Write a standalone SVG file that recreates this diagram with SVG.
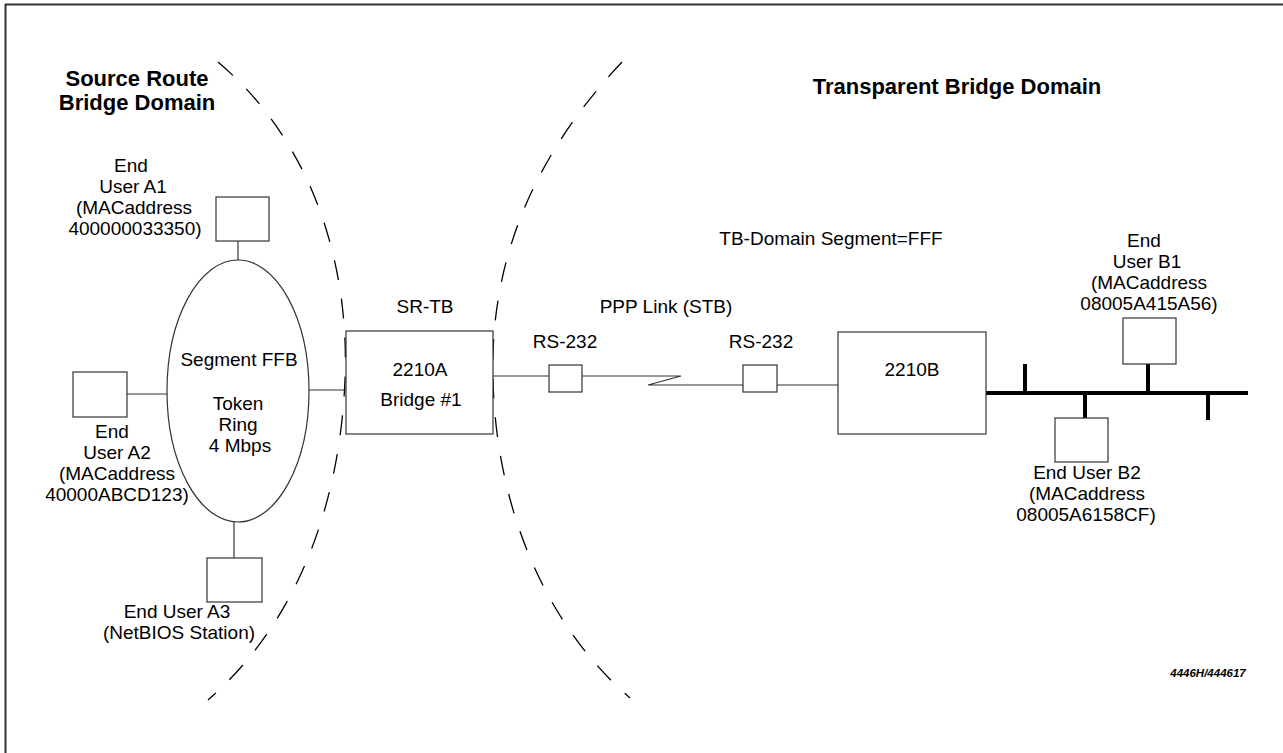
<svg xmlns="http://www.w3.org/2000/svg" width="1283" height="753" viewBox="0 0 1283 753">
<style>
text{font-family:"Liberation Sans",Arial,sans-serif;font-size:19px;fill:#000;text-anchor:middle}
.title{font-weight:bold;font-size:22px}
.box{fill:#fff;stroke:#333;stroke-width:1.2}
.ln{stroke:#333;stroke-width:1.2;fill:none}
.bus{stroke:#000;stroke-width:4;fill:none}
.dash{stroke:#000;stroke-width:1.3;fill:none;stroke-dasharray:20 19}
.note{font-size:11.5px;font-weight:bold;font-style:italic}
</style>
<rect width="1283" height="753" fill="#fff"/>
<g id="frame">
<line x1="5" y1="4.5" x2="1283" y2="4.5" stroke="#333" stroke-width="2"/>
<line x1="5.5" y1="4" x2="5.5" y2="753" stroke="#333" stroke-width="2"/>
</g>
<g id="domains">
<path class="dash" d="M218,62 C310,140 350,260 345,380 C340,500 300,620 208,700"/>
<path class="dash" d="M622,62 C520,170 490,280 493,380 C496,500 540,620 630,698"/>
<text class="title" x="137" y="86">Source Route</text>
<text class="title" x="137" y="110">Bridge Domain</text>
<text class="title" x="957" y="94">Transparent Bridge Domain</text>
<text x="831" y="245">TB-Domain Segment=FFF</text>
</g>
<g id="connectors">
<line class="ln" x1="238" y1="241" x2="238" y2="261"/>
<line class="ln" x1="127" y1="394" x2="167" y2="394"/>
<line class="ln" x1="234" y1="522" x2="234" y2="558"/>
<line class="ln" x1="309" y1="390" x2="346" y2="390"/>
<line class="ln" x1="493" y1="376" x2="549" y2="376"/>
<polyline class="ln" points="582,376 681,376 648,385 743,385"/>
<line class="ln" x1="777" y1="385" x2="838" y2="385"/>
<line class="bus" x1="983" y1="393" x2="1248" y2="393"/>
<line class="bus" x1="1025" y1="364" x2="1025" y2="393"/>
<line class="bus" x1="1148" y1="364" x2="1148" y2="393"/>
<line class="bus" x1="1085" y1="393" x2="1085" y2="419"/>
<line class="bus" x1="1208" y1="393" x2="1208" y2="420"/>
</g>
<g id="ring">
<ellipse class="box" cx="238" cy="391" rx="71" ry="131"/>
<text x="239" y="366">Segment FFB</text>
<text x="238" y="410">Token</text>
<text x="238" y="431">Ring</text>
<text x="240" y="452">4 Mbps</text>
</g>
<g id="userA1">
<rect class="box" x="216" y="197" width="53" height="44"/>
<text x="131" y="172">End</text>
<text x="133" y="193">User A1</text>
<text x="134" y="214">(MACaddress</text>
<text x="135" y="235">400000033350)</text>
</g>
<g id="userA2">
<rect class="box" x="73" y="372" width="54" height="45"/>
<text x="112" y="438">End</text>
<text x="117" y="459">User A2</text>
<text x="117" y="480">(MACaddress</text>
<text x="117" y="501">40000ABCD123)</text>
</g>
<g id="userA3">
<rect class="box" x="207" y="558" width="55" height="44"/>
<text x="177" y="618">End User A3</text>
<text x="179" y="639">(NetBIOS Station)</text>
</g>
<g id="bridge2210A">
<rect class="box" x="346" y="331" width="147" height="103"/>
<text x="425" y="313">SR-TB</text>
<text x="420" y="376">2210A</text>
<text x="421" y="406">Bridge #1</text>
</g>
<g id="rs232a">
<rect class="box" x="549" y="365" width="33" height="27"/>
<text x="565" y="348">RS-232</text>
</g>
<g id="ppp">
<text x="666" y="313">PPP Link (STB)</text>
</g>
<g id="rs232b">
<rect class="box" x="743" y="365" width="34" height="27"/>
<text x="761" y="348">RS-232</text>
</g>
<g id="bridge2210B">
<rect class="box" x="838" y="332" width="148" height="102"/>
<text x="912" y="376">2210B</text>
</g>
<g id="userB1">
<rect class="box" x="1123" y="318" width="53" height="46"/>
<text x="1144" y="247">End</text>
<text x="1147" y="268">User B1</text>
<text x="1149" y="289">(MACaddress</text>
<text x="1149" y="310">08005A415A56)</text>
</g>
<g id="userB2">
<rect class="box" x="1055" y="418" width="53" height="44"/>
<text x="1087" y="479">End User B2</text>
<text x="1087" y="500">(MACaddress</text>
<text x="1086" y="521">08005A6158CF)</text>
</g>
<g id="figid">
<text class="note" x="1208" y="677">4446H/444617</text>
</g>
</svg>
